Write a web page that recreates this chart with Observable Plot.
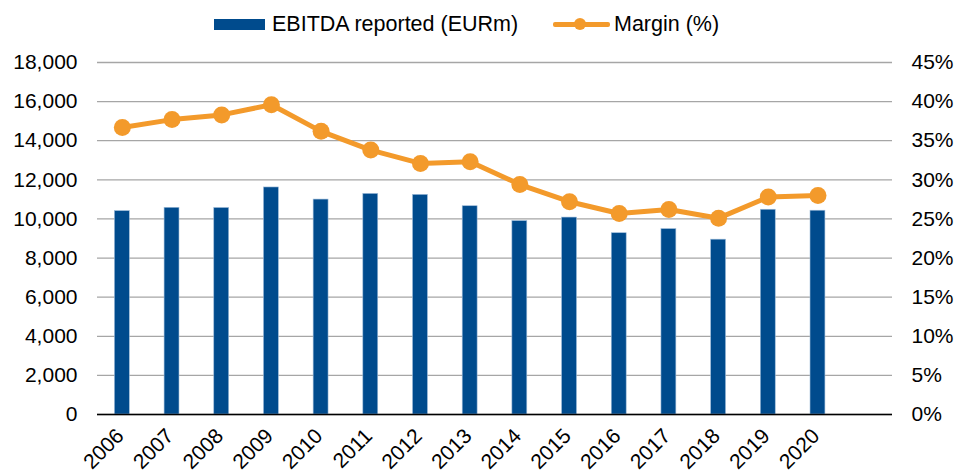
<!DOCTYPE html>
<html>
<head>
<meta charset="utf-8">
<script src="https://cdn.jsdelivr.net/npm/d3@7"></script>
<script src="https://cdn.jsdelivr.net/npm/@observablehq/plot@0.6"></script>
<style>
  body { margin: 0; background: #fff; font-family: "Liberation Sans", Arial, sans-serif; }
  #wrap { width: 956px; height: 473px; position: relative; overflow: hidden; }
  #legend { position: absolute; left: 0; top: 0; width: 956px; height: 40px; font-size: 21.5px; color: #000; }
  #legend .sw { position: absolute; }
  #legend .lb { position: absolute; top: 12px; line-height: 24px; white-space: nowrap; }
  #chart { position: absolute; left: 0; top: 40px; }
</style>
</head>
<body>
<div id="wrap">
  <div id="legend">
    <div class="sw" style="left:214px; top:19px; width:51px; height:11px; background:#004B8D;"></div>
    <div class="lb" style="left:272px;">EBITDA reported (EURm)</div>
    <div class="sw" style="left:553px; top:22px; width:57px; height:5px; background:#F39A2B; border-radius:2px;"></div>
    <div class="sw" style="left:574px; top:18px; width:12px; height:12px; border-radius:50%; background:#F39A2B;"></div>
    <div class="lb" style="left:614px;">Margin (%)</div>
  </div>
  <div id="chart"></div>
</div>
<script>
const years = ["2006","2007","2008","2009","2010","2011","2012","2013","2014","2015","2016","2017","2018","2019","2020"];
const ebitda = [10400, 10570, 10560, 11610, 10990, 11280, 11230, 10650, 9890, 10070, 9270, 9480, 8940, 10470, 10420];
const margin = [36.7, 37.7, 38.3, 39.6, 36.2, 33.8, 32.1, 32.3, 29.4, 27.2, 25.7, 26.2, 25.1, 27.8, 28.0];
const leftTicks = [0, 2000, 4000, 6000, 8000, 10000, 12000, 14000, 16000, 18000];
const rightTicks = [0, 5, 10, 15, 20, 25, 30, 35, 40, 45];

const ratio = 18000 / 45;
const data = years.map((y, i) => ({year: y, ebitda: ebitda[i], margin: margin[i]}));
const domain = [...years, ""];

const chart = Plot.plot({
  width: 956,
  height: 433,
  marginTop: 22,
  marginBottom: 59,
  marginLeft: 97,
  marginRight: 64,
  style: {fontFamily: "Liberation Sans, Arial, sans-serif", fontSize: "21px", color: "#000", background: "transparent"},
  x: {domain, type: "band", paddingInner: 0.7, paddingOuter: 0.35, round: false, axis: null},
  y: {domain: [0, 18000], axis: null},
  marks: [
    Plot.gridY(leftTicks, {stroke: "#a6a6a6", strokeOpacity: 1, strokeWidth: 1.3}),
    Plot.barY(data, {x: "year", y: "ebitda", fill: "#004B8D", stroke: "#9dbbd9", strokeWidth: 0.6}),
    Plot.ruleY([0], {stroke: "#000", strokeWidth: 1.5}),
    Plot.line(data, {x: "year", y: d => d.margin * ratio, stroke: "#F39A2B", strokeWidth: 5}),
    Plot.dot(data, {x: "year", y: d => d.margin * ratio, r: 8.5, fill: "#F39A2B", stroke: "none"}),
    Plot.axisY({anchor: "left", ticks: leftTicks, tickSize: 0, tickPadding: 20, tickFormat: d3.format(","), fill: "#000", label: null}),
    Plot.axisY({anchor: "right", ticks: rightTicks.map(v => v * ratio), tickSize: 0, tickPadding: 19, tickFormat: d => Math.round(d / ratio) + "%", fill: "#000", label: null}),
    Plot.axisX({ticks: years, tickSize: 0, tickRotate: -45, tickPadding: 18, dx: -2, fill: "#000", label: null})
  ]
});
document.getElementById("chart").appendChild(chart);
</script>
</body>
</html>
